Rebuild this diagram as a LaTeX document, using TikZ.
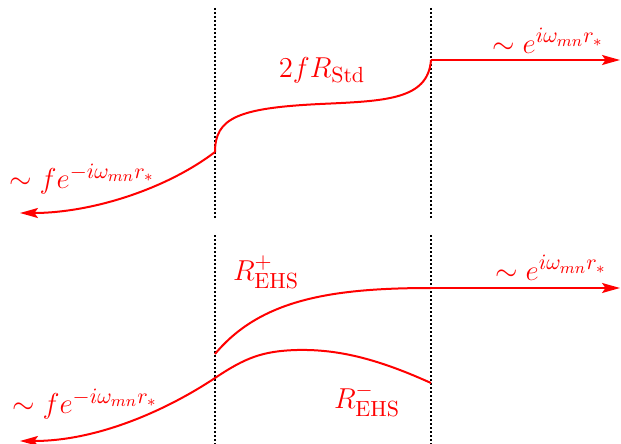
\documentclass[tikz,border=0pt]{standalone}
\usetikzlibrary{arrows.meta}
\begin{document}
\begin{tikzpicture}[x=0.5pt,y=-0.5pt,
  curve/.style={draw=red,line width=1pt},
  arr/.style={curve,-{Stealth[length=9pt,width=5pt,inset=1.8pt]}},
  guide/.style={draw=black,line width=1.1pt,dash pattern=on 1.1pt off 0.9pt},
  lbl/.style={text=red,font=\fontsize{15.2}{18}\selectfont,inner sep=0pt}]
\useasboundingbox (0,0) rectangle (621,444);
% guide lines
\coordinate (g1t) at (215,8);   \coordinate (g1b) at (215,218);
\coordinate (g2t) at (431,8);   \coordinate (g2b) at (431,218);
\coordinate (g3t) at (215,235); \coordinate (g3b) at (215,444);
\coordinate (g4t) at (431,235); \coordinate (g4b) at (431,444);
\draw[guide] (g1t) -- (g1b);
\draw[guide] (g2t) -- (g2b);
\draw[guide] (g3t) -- (g3b);
\draw[guide] (g4t) -- (g4b);
% top curve
\coordinate (A) at (215,152);
\coordinate (B) at (431,60);
\coordinate (Lt) at (20,213);
\coordinate (Rt) at (620,60);
\coordinate (M) at (320,104);
\draw[arr] (A) .. controls (165,190) and (90,213) .. (Lt);
\draw[curve] (A) .. controls (215,118) and (238,108) .. (M)
  .. controls (385,101) and (428,100) .. (B);
\draw[arr] (B) -- (Rt);
% bottom curves
\coordinate (C) at (215,354);
\coordinate (D) at (431,288);
\coordinate (Rb) at (620,288);
\draw[curve] (C) .. controls (260,300) and (330,288) .. (D);
\draw[arr] (D) -- (Rb);
\coordinate (E) at (431,383);
\coordinate (P) at (297,350);
\coordinate (F) at (215,378);
\coordinate (Lb) at (20,441);
\draw[arr] (E) .. controls (380,360) and (340,349) .. (P)
  .. controls (262,351) and (245,358) .. (F)
  .. controls (170,408) and (100,441) .. (Lb);
% labels
\node[lbl] (t1) at (82,179) {$\sim fe^{-i\omega_{mn}r_*}$};
\node[lbl] (t2) at (322,70) {$2fR_{\mathrm{Std}}$};
\node[lbl] (t3) at (548,41) {$\sim e^{i\omega_{mn}r_*}$};
\node[lbl] (b1) at (85,404) {$\sim fe^{-i\omega_{mn}r_*}$};
\node[lbl] (b2) at (266,272) {$R^{+}_{\mathrm{EHS}}$};
\node[lbl] (b3) at (367,400) {$R^{-}_{\mathrm{EHS}}$};
\node[lbl] (b4) at (551,268) {$\sim e^{i\omega_{mn}r_*}$};
\end{tikzpicture}
\end{document}
